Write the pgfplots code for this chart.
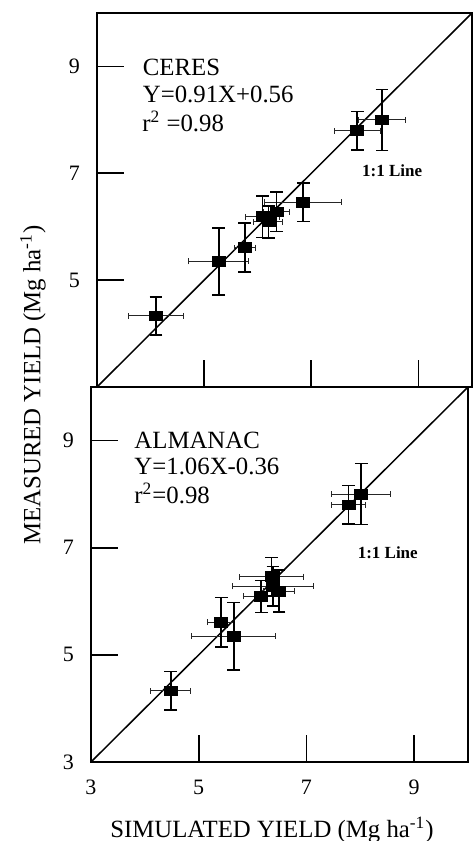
\documentclass[border=0pt]{standalone}
\usepackage{fontspec}
\setmainfont{Liberation Serif}
\usepackage{pgfplots}
\usepackage{pgfplotstable}
\pgfplotsset{compat=1.18}

% x y ex ey  (simulated, measured, errors)
\pgfplotstableread{
x    y    ex   ey
4.10 4.33 0.51 0.36
5.27 5.35 0.56 0.63
5.76 5.61 0.20 0.46
6.09 6.19 0.32 0.39
6.20 6.09 0.27 0.30
6.35 6.28 0.25 0.37
6.85 6.46 0.72 0.36
7.86 7.80 0.43 0.36
8.32 8.00 0.43 0.57
}\ceres

\pgfplotstableread{
x    y    ex   ey
4.48 4.33 0.37 0.36
5.65 5.35 0.78 0.63
5.42 5.61 0.25 0.46
6.49 6.19 0.28 0.39
6.16 6.09 0.32 0.30
6.38 6.28 0.75 0.37
6.35 6.46 0.60 0.36
7.78 7.80 0.32 0.36
8.02 8.00 0.55 0.57
}\almanac

\pgfplotsset{
  panel/.style={
    scale only axis,
    xmin=3, xmax=10, ymin=3, ymax=10,
    tick align=inside,
    xtick pos=bottom, ytick pos=left,
    major tick length=13.5pt,
    tick style={line width=0.8pt, black},
    axis line style={line width=1pt},
    tick label style={font=\fontsize{11}{13}\selectfont},
    /pgf/number format/assume math mode=true,
    yticklabel shift=5pt,
    xticklabel shift=5.5pt,
    clip=false,
  },
  xbars/.style={
    only marks, mark=square*, mark size=2.4pt,
    mark options={xscale=1.35, fill=black, draw=black},
    error bars/.cd, x dir=both, x explicit,
    error bar style={line width=0.5pt, black!85},
    error mark options={rotate=90, mark size=1.5pt, line width=0.5pt, black!85},
  },
  ybars/.style={
    only marks, mark=square*, mark size=2.4pt,
    mark options={xscale=1.35, fill=black, draw=black},
    error bars/.cd, y dir=both, y explicit,
    error bar style={line width=0.9pt, black},
    error mark options={rotate=90, mark size=3.2pt, line width=0.8pt, black},
  },
}
\tikzset{
  txt/.style={font=\fontsize{12.4}{14}\selectfont, anchor=base west, inner sep=0pt},
  oneone/.style={font=\bfseries\fontsize{8.5}{10}\selectfont, inner sep=0pt},
}

\begin{document}
\begin{tikzpicture}[x=1pt, y=1pt]
\useasboundingbox (0,0) rectangle (238,-420.5);

% top panel: CERES
\begin{axis}[panel,
  at={(48.5pt,-193.5pt)}, anchor=south west,
  width=187.5pt, height=187pt,
  xtick={5,7,9}, xticklabels={},
  ytick={5,7,9},
]
\addplot[black, line width=0.75pt] coordinates {(3,3) (10,10)};
\addplot[xbars] table[x=x, y=y, x error=ex] {\ceres};
\addplot[ybars] table[x=x, y=y, y error=ey] {\ceres};
\node[txt] at (axis cs:3.85,8.83) {CERES};
\node[txt] at (axis cs:3.85,8.33) {Y=0.91X+0.56};
\node[txt] at (axis cs:3.84,7.78) {r\textsuperscript{2} =0.98};
\node[oneone] at (axis cs:8.51,7.04) {1:1 Line};
\end{axis}

% bottom panel: ALMANAC
\begin{axis}[panel,
  at={(45.5pt,-381pt)}, anchor=south west,
  width=188.5pt, height=187.5pt,
  xtick={3,5,7,9},
  ytick={3,5,7,9},
]
\addplot[black, line width=0.75pt] coordinates {(3,3) (10,10)};
\addplot[xbars] table[x=x, y=y, x error=ex] {\almanac};
\addplot[ybars] table[x=x, y=y, y error=ey] {\almanac};
\node[txt] at (axis cs:3.80,8.85) {ALMANAC};
\node[txt] at (axis cs:3.80,8.37) {Y=1.06X-0.36};
\node[txt] at (axis cs:3.80,7.83) {r\textsuperscript{2}=0.98};
\node[oneone] at (axis cs:8.51,6.91) {1:1 Line};
\end{axis}

\node[rotate=90, font=\fontsize{12.4}{14}\selectfont] at (16.5,-192.5)
  {MEASURED YIELD (Mg ha\textsuperscript{-1})};
\node[anchor=base, font=\fontsize{12.4}{14}\selectfont, inner sep=0pt] at (136,-418.5)
  {SIMULATED YIELD (Mg ha\textsuperscript{-1})};
\end{tikzpicture}
\end{document}
